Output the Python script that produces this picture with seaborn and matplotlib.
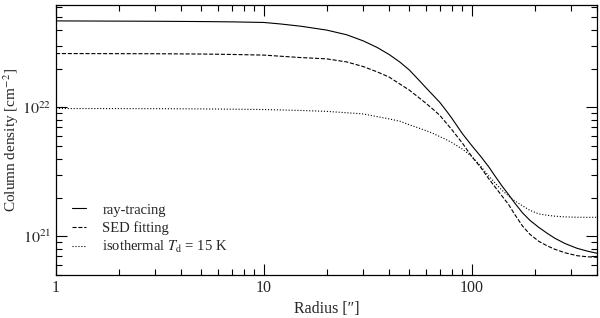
import matplotlib
matplotlib.use("Agg")
import matplotlib.pyplot as plt
import seaborn as sns
import numpy as np
import pandas as pd
from matplotlib.ticker import LogLocator, NullFormatter, FixedLocator, FixedFormatter

radius = [1, 3, 5, 7, 10, 12, 15, 20, 25, 30, 35, 40, 45, 50, 55, 60, 65, 70, 75, 80, 90, 100,
          110, 120, 130, 140, 150, 160, 175, 190, 210, 230, 250, 280, 320, 360, 400]
ray_tracing = [4.70e22, 4.67e22, 4.645e22, 4.62e22, 4.57e22, 4.45e22, 4.276e22, 3.99e22,
               3.667e22, 3.289e22, 2.924e22, 2.576e22, 2.253e22, 1.953e22, 1.661e22, 1.427e22,
               1.245e22, 1.097e22, 9.51e21, 8.26e21, 6.254e21, 5.04e21, 4.184e21, 3.488e21,
               2.888e21, 2.437e21, 2.109e21, 1.825e21, 1.521e21, 1.330e21, 1.170e21, 1.055e21,
               9.67e20, 8.79e20, 8.07e20, 7.66e20, 7.38e20]
sed_fitting = [2.622e22, 2.613e22, 2.60e22, 2.58e22, 2.55e22, 2.50e22, 2.441e22, 2.385e22,
               2.257e22, 2.078e22, 1.891e22, 1.721e22, 1.521e22, 1.364e22, 1.208e22, 1.080e22,
               9.68e21, 8.70e21, 7.62e21, 6.73e21, 5.28e21, 4.14e21, 3.439e21, 2.821e21,
               2.381e21, 2.039e21, 1.764e21, 1.491e21, 1.201e21, 1.036e21, 9.12e20, 8.43e20,
               7.94e20, 7.45e20, 7.07e20, 6.93e20, 6.87e20]
isothermal = [9.82e21, 9.79e21, 9.75e21, 9.70e21, 9.64e21, 9.57e21, 9.48e21, 9.33e21,
              9.10e21, 8.91e21, 8.49e21, 8.15e21, 7.82e21, 7.34e21, 6.96e21, 6.62e21,
              6.29e21, 5.94e21, 5.64e21, 5.34e21, 4.75e21, 4.155e21, 3.508e21, 2.960e21,
              2.562e21, 2.265e21, 2.053e21, 1.894e21, 1.723e21, 1.590e21, 1.491e21, 1.457e21,
              1.433e21, 1.414e21, 1.406e21, 1.404e21, 1.404e21]
labels = ["ray-tracing", "SED fitting", r"isothermal $T_{\rm d}$ = 15 K"]
styles = ["-", "--", ":"]

sns.set_style("ticks")
plt.rcParams["font.family"] = ["Liberation Serif", "DejaVu Serif"]
plt.rcParams["mathtext.fontset"] = "stix"

fig = plt.figure(figsize=(6.0, 3.18), dpi=100)
ax = fig.add_axes([0.0933, 0.135, 0.902, 0.848])

for vals, lab, ls in zip([ray_tracing, sed_fitting, isothermal], labels, styles):
    df = pd.DataFrame({"r": radius, "N": vals})
    sns.lineplot(data=df, x="r", y="N", ax=ax, color="black", linestyle=ls,
                 linewidth=0.8, label=lab, estimator=None, sort=True)

ax.set_xscale("log")
ax.set_yscale("log")
ax.set_xlim(1, 400)
ax.set_ylim(5e20, 6.2e22)

ax.xaxis.set_major_locator(FixedLocator([1, 10, 100]))
ax.xaxis.set_major_formatter(FixedFormatter(["1", "10", "100"]))
ax.xaxis.set_minor_locator(LogLocator(base=10, subs=np.arange(2, 10), numticks=20))
ax.xaxis.set_minor_formatter(NullFormatter())
ax.yaxis.set_major_locator(FixedLocator([1e21, 1e22]))
ax.yaxis.set_major_formatter(FixedFormatter([r"$10^{21}$", r"$10^{22}$"]))
ax.yaxis.set_minor_locator(LogLocator(base=10, subs=np.arange(2, 10), numticks=20))
ax.yaxis.set_minor_formatter(NullFormatter())

ax.tick_params(which="both", direction="in", top=True, right=True, labelsize=11.5, width=0.8, color="black")
ax.tick_params(which="major", length=8)
ax.tick_params(which="minor", length=4)
for s in ax.spines.values():
    s.set_linewidth(0.9)
    s.set_color("black")

ax.set_xlabel("Radius [\u2033]", fontsize=11.5, labelpad=4)
ax.set_ylabel(r"Column density [cm$^{-2}$]", fontsize=11, labelpad=1)

ax.legend(loc="lower left", bbox_to_anchor=(0.005, 0.025), frameon=False, fontsize=10.5,
          handlelength=0.95, handletextpad=1.15, labelspacing=0.3)

fig.savefig("out.png", dpi=100)
